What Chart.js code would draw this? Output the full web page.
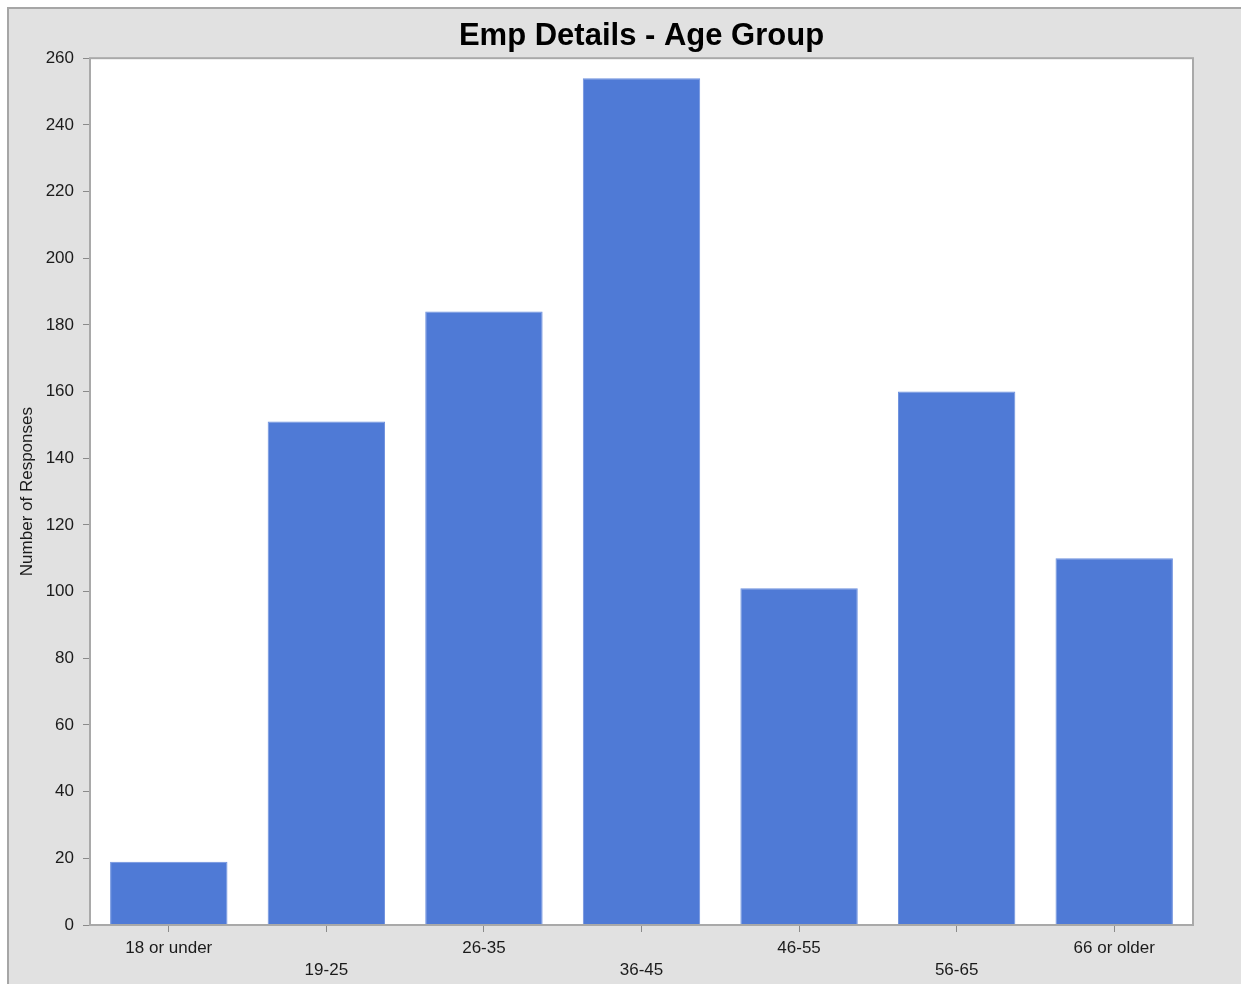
<!DOCTYPE html>
<html>
<head>
<meta charset="utf-8">
<script src="https://cdn.jsdelivr.net/npm/chart.js"></script>
<style>
  html, body { margin: 0; padding: 0; background: #ffffff; }
  #wrap { width: 1241px; height: 984px; }
</style>
</head>
<body>
<div id="wrap"><canvas id="ageChart" width="1241" height="984"></canvas></div>
<script>
// data
const categories = ['18 or under', '19-25', '26-35', '36-45', '46-55', '56-65', '66 or older'];
const responses = [19, 151, 184, 254, 101, 160, 110];
const yMin = 0;
const yMax = 260;
const yStep = 20;

// staggered labels: every second one goes on the second line
const staggered = categories.map((c, i) => (i % 2 === 0 ? [c, ''] : ['', c]));

// gray panel + white plot area + plot frame
const panelPlugin = {
  id: 'panel',
  beforeDraw(chart) {
    const ctx = chart.ctx;
    const a = chart.chartArea;
    ctx.save();
    ctx.fillStyle = '#ffffff';
    ctx.fillRect(0, 0, chart.width, chart.height);
    ctx.fillStyle = '#e1e1e1';
    ctx.fillRect(8, 8, chart.width - 8, chart.height - 8);
    ctx.strokeStyle = '#a6a6a6';
    ctx.lineWidth = 2;
    ctx.beginPath();
    ctx.moveTo(8, chart.height);
    ctx.lineTo(8, 8);
    ctx.lineTo(chart.width, 8);
    ctx.stroke();
    ctx.fillStyle = '#ffffff';
    ctx.fillRect(a.left, a.top, a.right - a.left, a.bottom - a.top);
    ctx.restore();
  },
  afterDatasetsDraw(chart) {
    const ctx = chart.ctx;
    const a = chart.chartArea;
    ctx.save();
    ctx.strokeStyle = '#a9a9a9';
    ctx.lineWidth = 2;
    ctx.strokeRect(a.left, a.top, a.right - a.left, a.bottom - a.top);
    ctx.restore();
  }
};

let ctx = document.getElementById('ageChart');

let config = {
  type: 'bar',
  data: {
    labels: staggered,
    datasets: [{
      label: 'Number of Responses',
      data: responses,
      backgroundColor: '#4f7ad6',
      borderColor: '#6d90de',
      borderWidth: 1,
      barPercentage: 0.745,
      categoryPercentage: 1.0
    }]
  },
  options: {
    responsive: false,
    animation: false,
    layout: {
      padding: { left: 8, right: 48, top: 0, bottom: 0 }
    },
    plugins: {
      legend: { display: false },
      tooltip: { enabled: false },
      title: {
        display: true,
        text: 'Emp Details - Age Group',
        fullSize: false,
        color: '#000000',
        font: { family: 'Liberation Sans, Arial, sans-serif', size: 31, weight: 'bold' },
        padding: { top: 18, bottom: 3 }
      }
    },
    scales: {
      x: {
        offset: true,
        border: { display: false },
        grid: {
          display: true,
          drawOnChartArea: false,
          drawTicks: true,
          tickLength: 7,
          tickColor: '#8a8a8a',
          offset: false
        },
        ticks: {
          color: '#1b1b1b',
          autoSkip: false,
          maxRotation: 0,
          padding: 5,
          font: { family: 'Liberation Sans, Arial, sans-serif', size: 17, lineHeight: 1.3 }
        },
        afterFit(scale) { scale.height = 59; }
      },
      y: {
        min: yMin,
        max: yMax,
        border: { display: false },
        grid: {
          display: true,
          drawOnChartArea: false,
          drawTicks: true,
          tickLength: 7,
          tickColor: '#8a8a8a'
        },
        ticks: {
          stepSize: yStep,
          color: '#1b1b1b',
          padding: 9,
          font: { family: 'Liberation Sans, Arial, sans-serif', size: 17 }
        },
        title: {
          display: true,
          text: 'Number of Responses',
          color: '#1b1b1b',
          padding: { top: 9, bottom: 0 },
          font: { family: 'Liberation Sans, Arial, sans-serif', size: 17 }
        },
        afterFit(scale) { scale.width = 82; }
      }
    }
  },
  plugins: [panelPlugin]
};

let ageChart = new Chart(ctx, config);
</script>
</body>
</html>
